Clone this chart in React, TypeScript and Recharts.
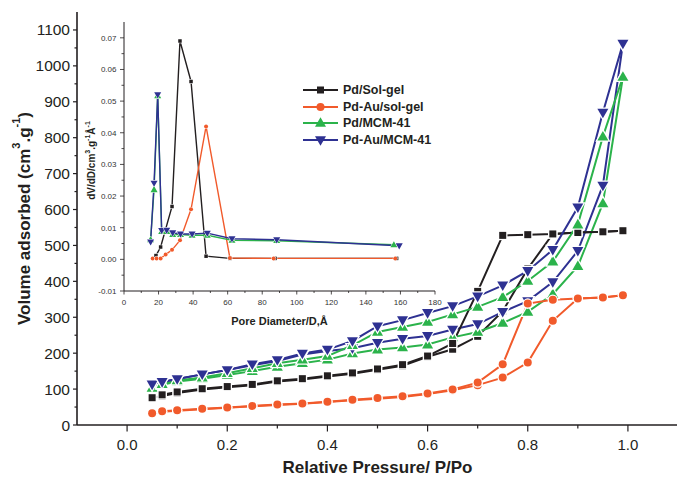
// N2 isotherms (main) with BJH pore size distribution (inset).
// Each sample has an adsorption branch and a desorption branch drawn as separate lines.
import React from "react";
import { ComposedChart, Legend, Line, XAxis, YAxis } from "recharts";

const FONT = '"Liberation Sans", Arial, Helvetica, sans-serif';
const INK = "#231f20";

const C_BLACK = "#231f20";
const C_ORANGE = "#f15a2b";
const C_GREEN = "#2bb34b";
const C_BLUE = "#2e3192";

// ---- main isotherm data (P/Po, cm3/g) ----
const adsP = [0.05, 0.07, 0.1, 0.15, 0.2, 0.25, 0.3, 0.35, 0.4, 0.45, 0.5, 0.55, 0.6, 0.65, 0.7, 0.75, 0.8, 0.85, 0.9, 0.95, 0.99];
const desP = [0.99, 0.95, 0.9, 0.85, 0.8, 0.75, 0.7, 0.65, 0.6, 0.55, 0.5, 0.45, 0.4, 0.35, 0.3, 0.25, 0.2, 0.15, 0.1, 0.07];

const pdSolAds = [76, 81, 89, 99, 105, 111, 121, 127, 135, 143, 154, 165, 190, 211, 247, 317, 435, 532, 536, 538, 541];
const pdSolDes = [541, 538, 536, 532, 530, 528, 372, 227, 192, 168, 156, 145, 137, 129, 123, 113, 107, 101, 92, 84];

const pdAuSolAds = [33, 37, 40, 44, 48, 52, 56, 59, 64, 69, 73, 78, 86, 97, 111, 132, 174, 290, 352, 355, 361];
const pdAuSolDes = [361, 355, 352, 349, 338, 169, 118, 99, 88, 80, 75, 70, 65, 60, 57, 53, 49, 45, 41, 38];

const pdMcmAds = [103, 112, 121, 129, 139, 150, 162, 172, 182, 199, 210, 216, 224, 244, 259, 284, 315, 364, 442, 617, 969];
const pdMcmDes = [969, 803, 558, 455, 401, 356, 329, 308, 287, 273, 259, 222, 192, 182, 172, 158, 144, 132, 124, 114];

const pdAuMcmAds = [113, 120, 128, 141, 153, 166, 178, 196, 206, 214, 229, 240, 248, 266, 281, 315, 345, 398, 485, 667, 1062];
const pdAuMcmDes = [1062, 870, 606, 488, 429, 389, 358, 331, 312, 292, 275, 234, 210, 199, 181, 169, 153, 141, 128, 120];

const mainXTicks = [0, 0.1, 0.2, 0.3, 0.4, 0.5, 0.6, 0.7, 0.8, 0.9, 1.0];
const mainYTicks = [0, 50, 100, 150, 200, 250, 300, 350, 400, 450, 500, 550, 600, 650, 700, 750, 800, 850, 900, 950, 1000, 1050, 1100];

// ---- inset: pore size distribution (D in Å, dV/dD) ----
const solD = [18.5, 21.2, 27.8, 32.4, 38.8, 47.5, 61.3, 87.4, 157.8];
const solDv = [0.0012, 0.0039, 0.0167, 0.069, 0.0562, 0.001, 0.0003, 0.0003, 0.0003];

const auSolD = [16.6, 18.9, 21.2, 24.1, 27.8, 32.4, 38.8, 47.5, 61.3, 86.6, 157];
const auSolDv = [0.0003, 0.0003, 0.0003, 0.0015, 0.003, 0.006, 0.0158, 0.042, 0.0004, 0.0003, 0.0003];

const mcmD = [15.4, 17.4, 19.5, 21.8, 24.7, 28.2, 32.7, 39.4, 48.2, 62.5, 88.4, 156.2];
const mcmDv = [0.0062, 0.022, 0.0517, 0.0088, 0.0088, 0.0078, 0.0078, 0.0076, 0.0076, 0.006, 0.0059, 0.0046];

const auMcmD = [15.4, 17.4, 19.5, 21.8, 24.7, 28.2, 32.7, 39.4, 48.2, 62.5, 88.4, 159.3];
const auMcmDv = [0.0055, 0.0241, 0.052, 0.0091, 0.0092, 0.0084, 0.008, 0.008, 0.0083, 0.0065, 0.0062, 0.0043];

const insetXTicks = [0, 10, 20, 30, 40, 50, 60, 70, 80, 90, 100, 110, 120, 130, 140, 150, 160, 170, 180];
const insetYTicks = [-0.01, -0.005, 0, 0.005, 0.01, 0.015, 0.02, 0.025, 0.03, 0.035, 0.04, 0.045, 0.05, 0.055, 0.06, 0.065, 0.07];

const legendNames = ["Pd/Sol-gel", "Pd-Au/sol-gel", "Pd/MCM-41", "Pd-Au/MCM-41"];

type Shape = "square" | "circle" | "up" | "down";

const pts = (ps: number[], vs: number[]) => ps.map((p, i) => ({ p, v: vs[i] }));

const series = [
  { name: legendNames[0], color: C_BLACK, shape: "square" as Shape, size: 7, insetSize: 3.5, ads: pts(adsP, pdSolAds), des: pts(desP, pdSolDes), psd: pts(solD, solDv) },
  { name: legendNames[1], color: C_ORANGE, shape: "circle" as Shape, size: 8, insetSize: 4, ads: pts(adsP, pdAuSolAds), des: pts(desP, pdAuSolDes), psd: pts(auSolD, auSolDv) },
  { name: legendNames[2], color: C_GREEN, shape: "up" as Shape, size: 11, insetSize: 7, ads: pts(adsP, pdMcmAds), des: pts(desP, pdMcmDes), psd: pts(mcmD, mcmDv) },
  { name: legendNames[3], color: C_BLUE, shape: "down" as Shape, size: 11, insetSize: 7, ads: pts(adsP, pdAuMcmAds), des: pts(desP, pdAuMcmDes), psd: pts(auMcmD, auMcmDv) },
];

function Marker({ shape, cx, cy, s, color, halo }: { shape: Shape; cx: number; cy: number; s: number; color: string; halo: number }) {
  const common = { fill: color, stroke: "#fff", strokeWidth: halo, paintOrder: "stroke" as const };
  if (shape === "circle") return <circle cx={cx} cy={cy} r={s / 2} {...common} />;
  if (shape === "square") return <rect x={cx - s / 2} y={cy - s / 2} width={s} height={s} {...common} />;
  const w = s;
  const h = s * 0.87;
  const d =
    shape === "up"
      ? `M${cx},${cy - h * 0.6}L${cx + w / 2},${cy + h * 0.4}L${cx - w / 2},${cy + h * 0.4}Z`
      : `M${cx},${cy + h * 0.6}L${cx + w / 2},${cy - h * 0.4}L${cx - w / 2},${cy - h * 0.4}Z`;
  return <path d={d} {...common} />;
}

const dotFn = (shape: Shape, color: string, s: number, halo: number) => (props: any) => {
  const { cx, cy, index } = props;
  if (cx == null || cy == null) return <g key={`n${index}`} />;
  return <Marker key={`m${index}`} shape={shape} cx={cx} cy={cy} s={s} color={color} halo={halo} />;
};

// ---- ticks ----
const BottomTick = ({ x, y, payload }: any) => {
  const v = payload.value as number;
  const major = Math.round(v * 10) % 2 === 0;
  return (
    <g>
      <line x1={x} x2={x} y1={y} y2={y + (major ? 6.5 : 3.5)} stroke={INK} strokeWidth={1.2} />
      {major && (
        <text x={x} y={y + 25} textAnchor="middle" fontSize={15} fontFamily={FONT} fill={INK}>
          {v.toFixed(1)}
        </text>
      )}
    </g>
  );
};

const TopTick = ({ x, y }: any) => <line x1={x} x2={x} y1={y} y2={y + 3} stroke={INK} strokeWidth={1.2} />;

const LeftTick = ({ x, y, payload }: any) => {
  const v = payload.value as number;
  const major = v % 100 === 0;
  return (
    <g>
      <line x1={x - (major ? 4 : 2.5)} x2={x} y1={y} y2={y} stroke={INK} strokeWidth={1.2} />
      {major && (
        <text x={x - 7} y={y + 5.5} textAnchor="end" fontSize={15.5} fontFamily={FONT} fill={INK}>
          {v}
        </text>
      )}
    </g>
  );
};

const InsetBottomTick = ({ x, y, payload }: any) => {
  const v = payload.value as number;
  const major = v % 20 === 0;
  return (
    <g>
      <line x1={x} x2={x} y1={y} y2={y + (major ? 3.5 : 2)} stroke={INK} strokeWidth={0.8} />
      {major && (
        <text x={x} y={y + 14} textAnchor="middle" fontSize={8} fontFamily={FONT} fill="#333">
          {v}
        </text>
      )}
    </g>
  );
};

const InsetLeftTick = ({ x, y, payload }: any) => {
  const v = payload.value as number;
  const major = Math.round(v * 1000) % 10 === 0;
  return (
    <g>
      <line x1={x - (major ? 4 : 2.5)} x2={x} y1={y} y2={y} stroke={INK} strokeWidth={0.8} />
      {major && (
        <text x={x - 7.5} y={y + 3} textAnchor="end" fontSize={8} fontFamily={FONT} fill="#333">
          {v.toFixed(2)}
        </text>
      )}
    </g>
  );
};

// ---- axis titles ----
const MainXLabel = ({ viewBox }: any) => (
  <text x={viewBox.x + viewBox.width / 2} y={viewBox.y + 48} textAnchor="middle" fontSize={17} fontWeight={700} fontFamily={FONT} fill={INK}>
    Relative Pressure/ P/Po
  </text>
);

const MainYLabel = ({ viewBox }: any) => {
  const cx = 24;
  const cy = viewBox.y + viewBox.height / 2;
  return (
    <text x={cx} y={cy} transform={`rotate(-90 ${cx} ${cy})`} textAnchor="middle" dominantBaseline="central" fontSize={17} fontWeight={700} fontFamily={FONT} fill={INK}>
      Volume adsorbed (cm
      <tspan fontSize={11} dy={-8}>3</tspan>
      <tspan dy={8}>.g</tspan>
      <tspan fontSize={11} dy={-8}>-1</tspan>
      <tspan dy={8}>)</tspan>
    </text>
  );
};

const InsetXLabel = ({ viewBox }: any) => (
  <text x={viewBox.x + viewBox.width / 2} y={viewBox.y + 34} textAnchor="middle" fontSize={11} fontWeight={700} fontFamily={FONT} fill={INK}>
    Pore Diameter/D,Å
  </text>
);

const InsetYLabel = ({ viewBox }: any) => {
  const cx = 91;
  const cy = viewBox.y + viewBox.height / 2 + 4;
  return (
    <text x={cx} y={cy} transform={`rotate(-90 ${cx} ${cy})`} textAnchor="middle" dominantBaseline="central" fontSize={10} fontWeight={700} fontFamily={FONT} fill={INK}>
      dV/dD/cm
      <tspan fontSize={7} dy={-4}>3</tspan>
      <tspan dy={4}>.g</tspan>
      <tspan fontSize={7} dy={-4}>-1</tspan>
      <tspan dy={4}>Å</tspan>
      <tspan fontSize={7} dy={-4}>-1</tspan>
    </text>
  );
};

const renderLegend = () => (
  <div style={{ fontFamily: FONT, fontWeight: 700, fontSize: 12.5, color: INK }}>
    {series.map(s => (
      <div key={s.name} style={{ display: "flex", alignItems: "center", height: 16.5 }}>
        <svg width={38} height={14} style={{ display: "block" }}>
          <line x1={1} x2={36} y1={7} y2={7} stroke={s.color} strokeWidth={2} />
          <Marker shape={s.shape} cx={18.5} cy={7} s={s.size} color={s.color} halo={0} />
        </svg>
        <span style={{ marginLeft: 3, whiteSpace: "nowrap" }}>{s.name}</span>
      </div>
    ))}
  </div>
);

export default function App() {
  return (
    <div style={{ position: "absolute", left: 0, top: 0, width: 677, height: 477, background: "#fff", overflow: "hidden" }}>
      <div style={{ position: "absolute", left: 0, top: 0 }}>
        <ComposedChart width={677} height={477} margin={{ top: 12, right: -1, bottom: 0, left: 0 }}>
          <XAxis
            xAxisId="b"
            type="number"
            dataKey="p"
            domain={[-0.1, 1.1]}
            ticks={mainXTicks}
            tick={BottomTick}
            tickSize={0}
            tickMargin={0}
            height={52}
            axisLine={{ stroke: INK, strokeWidth: 1.6 }}
            tickLine={false}
            interval={0}
            allowDataOverflow
            label={MainXLabel}
          />
          <XAxis
            xAxisId="t"
            orientation="top"
            type="number"
            domain={[-0.1, 1.1]}
            ticks={mainXTicks}
            tick={TopTick}
            tickSize={0}
            tickMargin={0}
            height={0}
            axisLine={{ stroke: INK, strokeWidth: 2.2 }}
            tickLine={false}
            interval={0}
          />
          <YAxis
            yAxisId="l"
            type="number"
            domain={[0, 1150]}
            ticks={mainYTicks}
            tick={LeftTick}
            tickSize={0}
            tickMargin={0}
            width={77}
            axisLine={{ stroke: INK, strokeWidth: 1.6 }}
            tickLine={false}
            interval={0}
            allowDataOverflow
            label={MainYLabel}
          />
          {series.map(s => (
            <Line
              key={s.name + "-ads"}
              xAxisId="b"
              yAxisId="l"
              data={s.ads}
              dataKey="v"
              type="linear"
              stroke={s.color}
              strokeWidth={2}
              dot={dotFn(s.shape, s.color, s.size, 2.5)}
              activeDot={false}
              isAnimationActive={false}
            />
          ))}
          {series.map(s => (
            <Line
              key={s.name + "-des"}
              xAxisId="b"
              yAxisId="l"
              data={s.des}
              dataKey="v"
              type="linear"
              stroke={s.color}
              strokeWidth={2}
              dot={dotFn(s.shape, s.color, s.size, 2.5)}
              activeDot={false}
              isAnimationActive={false}
            />
          ))}
        </ComposedChart>
      </div>
      <div style={{ position: "absolute", left: 0, top: 0 }}>
        <ComposedChart width={460} height={340} margin={{ top: 22, right: 25, bottom: 0, left: 0 }}>
          <XAxis
            type="number"
            dataKey="p"
            domain={[0, 180]}
            ticks={insetXTicks}
            tick={InsetBottomTick}
            tickSize={0}
            tickMargin={0}
            height={49}
            axisLine={{ stroke: INK, strokeWidth: 1 }}
            tickLine={false}
            interval={0}
            label={InsetXLabel}
          />
          <YAxis
            type="number"
            domain={[-0.01, 0.075]}
            ticks={insetYTicks}
            tick={InsetLeftTick}
            tickSize={0}
            tickMargin={0}
            width={124}
            axisLine={{ stroke: INK, strokeWidth: 1 }}
            tickLine={false}
            interval={0}
            allowDataOverflow
            label={InsetYLabel}
          />
          {series.map(s => (
            <Line
              key={s.name + "-psd"}
              name={s.name}
              data={s.psd}
              dataKey="v"
              type="linear"
              stroke={s.color}
              strokeWidth={1.4}
              dot={dotFn(s.shape, s.color, s.insetSize, 1)}
              activeDot={false}
              isAnimationActive={false}
            />
          ))}
          <Legend
            layout="vertical"
            align="center"
            verticalAlign="middle"
            content={renderLegend}
            wrapperStyle={{ left: 302, top: 82, width: 160, height: 70 }}
          />
        </ComposedChart>
      </div>
    </div>
  );
}
